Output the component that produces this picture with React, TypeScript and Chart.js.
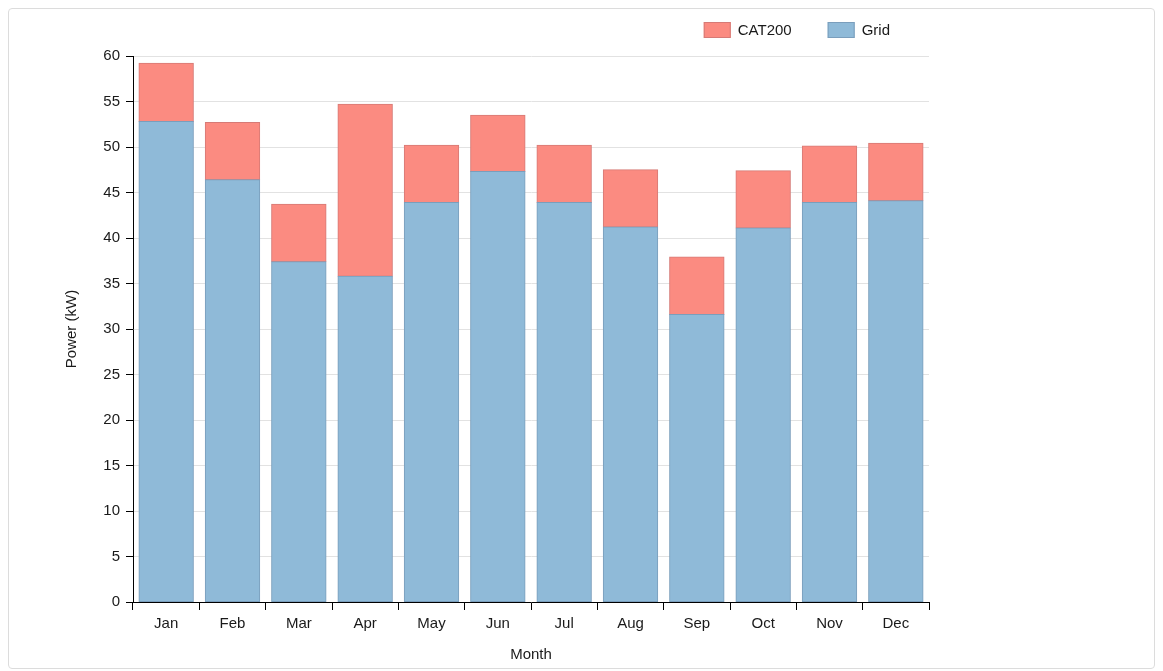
import React, { useEffect, useRef } from "react";
import { Chart, registerables } from "chart.js";

Chart.register(...registerables);

// Monthly power split between grid supply and the CAT200 unit (kW)
const months = ["Jan", "Feb", "Mar", "Apr", "May", "Jun", "Jul", "Aug", "Sep", "Oct", "Nov", "Dec"];
const gridValues = [52.8, 46.4, 37.4, 35.8, 43.9, 47.3, 43.9, 41.2, 31.6, 41.1, 43.9, 44.1];
const cat200Values = [6.4, 6.3, 6.3, 18.9, 6.3, 6.2, 6.3, 6.3, 6.3, 6.3, 6.2, 6.3];

const yMin = 0;
const yMax = 60;
const yStep = 5;

const FONT_FAMILY = '"Liberation Sans", Arial, sans-serif';
const FONT_SIZE = 15;
const TEXT_COLOR = "#1a1a1a";

// Legend drawn in the top-right corner above the plot, topmost series first
const cornerLegend = {
  id: "cornerLegend",
  afterDraw(chart: any) {
    const { ctx, chartArea } = chart;
    const items = chart.data.datasets
      .map((d: any) => ({ label: d.label, fill: d.backgroundColor, stroke: d.borderColor }))
      .reverse();
    const boxW = 27;
    const boxH = 16;
    const boxTop = 13;
    const textGap = 7;
    const itemGap = 36;
    ctx.save();
    ctx.font = `${FONT_SIZE}px ${FONT_FAMILY}`;
    ctx.textBaseline = "middle";
    ctx.textAlign = "left";
    const widths = items.map((it: any) => boxW + textGap + ctx.measureText(it.label).width);
    const total = widths.reduce((a: number, b: number) => a + b, 0) + itemGap * (items.length - 1);
    let x = chartArea.right - 39 - total;
    items.forEach((it: any, i: number) => {
      ctx.fillStyle = it.fill;
      ctx.fillRect(x, boxTop, boxW, boxH);
      ctx.strokeStyle = it.stroke;
      ctx.lineWidth = 1;
      ctx.strokeRect(x + 0.5, boxTop + 0.5, boxW - 1, boxH - 1);
      ctx.fillStyle = TEXT_COLOR;
      ctx.fillText(it.label, x + boxW + textGap, boxTop + boxH / 2 + 1);
      x += widths[i] + itemGap;
    });
    ctx.restore();
  },
};

export default function App() {
  const canvasRef = useRef<HTMLCanvasElement | null>(null);

  useEffect(() => {
    const canvas = canvasRef.current;
    if (!canvas) return;
    const chart = new Chart(canvas, {
      type: "bar",
      data: {
        labels: months,
        datasets: [
          {
            label: "Grid",
            data: gridValues,
            backgroundColor: "rgb(143,186,216)",
            borderColor: "rgb(122,158,188)",
            borderWidth: 1,
            borderSkipped: false,
            inflateAmount: 0.5,
          },
          {
            label: "CAT200",
            data: cat200Values,
            backgroundColor: "rgb(251,139,129)",
            borderColor: "rgb(214,122,118)",
            borderWidth: 1,
            borderSkipped: false,
            inflateAmount: 0.5,
          },
        ],
      },
      options: {
        responsive: false,
        animation: false,
        devicePixelRatio: 1,
        layout: { padding: { top: 47, right: 225, bottom: 0, left: 0 } },
        datasets: {
          bar: { categoryPercentage: 1, barPercentage: 0.82 },
        },
        plugins: {
          legend: { display: false },
          tooltip: { enabled: false },
        },
        scales: {
          x: {
            stacked: true,
            offset: true,
            grid: {
              offset: true,
              drawOnChartArea: false,
              drawTicks: true,
              tickLength: 8,
              tickColor: "#000",
              tickWidth: 1,
            },
            border: { display: true, color: "#000", width: 1 },
            ticks: {
              color: TEXT_COLOR,
              padding: 5,
              font: { family: FONT_FAMILY, size: FONT_SIZE },
              maxRotation: 0,
            },
            title: {
              display: true,
              text: "Month",
              color: TEXT_COLOR,
              font: { family: FONT_FAMILY, size: FONT_SIZE },
              padding: { top: 0, bottom: 4 },
            },
            afterFit: (scale: any) => {
              scale.height = 66;
            },
          },
          y: {
            stacked: true,
            min: yMin,
            max: yMax,
            grid: {
              color: "#e2e2e2",
              lineWidth: 1,
              drawTicks: true,
              tickLength: 7,
              tickColor: "#000",
              tickWidth: 1,
            },
            border: { display: true, color: "#000", width: 1 },
            ticks: {
              stepSize: yStep,
              color: TEXT_COLOR,
              padding: 6,
              font: { family: FONT_FAMILY, size: FONT_SIZE },
            },
            title: {
              display: true,
              text: "Power (kW)",
              color: TEXT_COLOR,
              font: { family: FONT_FAMILY, size: FONT_SIZE },
              padding: { top: 54, bottom: 0 },
            },
            afterFit: (scale: any) => {
              scale.width = 124;
            },
          },
        },
      },
      plugins: [cornerLegend],
    });
    return () => chart.destroy();
  }, []);

  return (
    <div
      style={{
        width: 1145,
        height: 659,
        border: "1px solid #dcdcdc",
        borderRadius: 4,
        background: "#fff",
      }}
    >
      <canvas ref={canvasRef} width={1145} height={659} style={{ display: "block" }} />
    </div>
  );
}
